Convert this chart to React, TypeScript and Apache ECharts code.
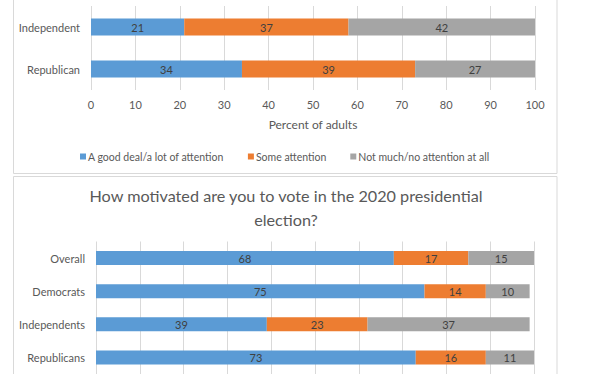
import React, { useEffect, useRef } from "react";
import * as echarts from "echarts";

// Top chart (attention)
const topCategories = ["Independent", "Republican"];
const topSeriesNames = [
  "A good deal/a lot of attention",
  "Some attention",
  "Not much/no attention at all",
];
const topGoodDeal = [21, 34];
const topSome = [37, 39];
const topNotMuch = [42, 27];

// Bottom chart (motivation)
const bottomTitle = "How motivated are you to vote in the 2020 presidential\nelection?";
const bottomCategories = ["Overall", "Democrats", "Independents", "Republicans"];
const bottomHigh = [68, 75, 39, 73];
const bottomMid = [17, 14, 23, 16];
const bottomLow = [15, 10, 37, 11];

const xTicks = [0, 10, 20, 30, 40, 50, 60, 70, 80, 90, 100];

const COLORS = ["#5B9BD5", "#ED7D31", "#A5A5A5"];
const FONT = "Lato";

export default function App() {
  const ref = useRef<HTMLDivElement>(null);
  useEffect(() => {
    if (!ref.current) return;
    const chart = echarts.init(ref.current, undefined, { renderer: "svg" });

    const mkSeries = (
      name: string,
      data: number[],
      color: string,
      gi: number,
      stack: string,
      barWidth: number
    ) => ({
      type: "bar",
      name,
      data,
      stack,
      xAxisIndex: gi,
      yAxisIndex: gi,
      barWidth,
      itemStyle: { color },
      label: {
        show: true,
        position: "inside",
        color: "#404040",
        fontFamily: FONT,
        fontSize: 11,
      },
    });

    const xAxisBase = (gi: number, showLabels: boolean) => ({
      type: "value",
      gridIndex: gi,
      min: xTicks[0],
      max: xTicks[xTicks.length - 1],
      interval: 10,
      axisLine: { show: false },
      axisTick: { show: false },
      splitLine: { show: true, lineStyle: { color: "#D9D9D9", width: 1 } },
      axisLabel: {
        show: showLabels,
        color: "#595959",
        fontFamily: FONT,
        fontSize: 11,
        margin: 9,
      },
    });

    const yAxisBase = (gi: number, data: string[]) => ({
      type: "category",
      gridIndex: gi,
      data,
      inverse: true,
      axisLine: { show: false },
      axisTick: { show: false },
      splitLine: { show: false },
      axisLabel: {
        color: "#595959",
        fontFamily: FONT,
        fontSize: 11,
        margin: 11,
      },
    });

    chart.setOption({
      animation: false,
      backgroundColor: "#FFFFFF",
      textStyle: { fontFamily: FONT },
      graphic: [
        {
          type: "rect",
          shape: { x: 13.5, y: -10, width: 543.5, height: 183.5 },
          style: { fill: "none", stroke: "#D9D9D9", lineWidth: 1 },
          z: -1,
        },
        {
          type: "rect",
          shape: { x: 13.5, y: 176.5, width: 543.5, height: 220 },
          style: { fill: "none", stroke: "#D9D9D9", lineWidth: 1 },
          z: -1,
        },
      ],
      title: {
        text: bottomTitle,
        left: 281,
        textAlign: "center",
        top: 178,
        textStyle: {
          color: "#595959",
          fontFamily: FONT,
          fontSize: 16.2,
          fontWeight: "normal",
          lineHeight: 24.5,
        },
      },
      legend: {
        data: topSeriesNames,
        top: 146,
        left: 75,
        itemWidth: 6,
        itemHeight: 6,
        itemGap: 24,
        icon: "rect",
        textStyle: {
          color: "#595959",
          fontFamily: FONT,
          fontSize: 10.5,
          padding: [0, 0, 0, -3],
        },
      },
      grid: [
        { left: 91, right: 612 - 535, top: 6, height: 84, containLabel: false },
        { left: 96, right: 612 - 534, top: 241.5, height: 148, containLabel: false },
      ],
      xAxis: [
        {
          ...xAxisBase(0, true),
          name: "Percent of adults",
          nameLocation: "middle",
          nameGap: 28,
          nameTextStyle: { color: "#595959", fontFamily: FONT, fontSize: 12 },
        },
        xAxisBase(1, false),
      ],
      yAxis: [yAxisBase(0, topCategories), yAxisBase(1, bottomCategories)],
      series: [
        mkSeries(topSeriesNames[0], topGoodDeal, COLORS[0], 0, "top", 17),
        mkSeries(topSeriesNames[1], topSome, COLORS[1], 0, "top", 17),
        mkSeries(topSeriesNames[2], topNotMuch, COLORS[2], 0, "top", 17),
        mkSeries("Very motivated", bottomHigh, COLORS[0], 1, "bottom", 14),
        mkSeries("Somewhat motivated", bottomMid, COLORS[1], 1, "bottom", 14),
        mkSeries("Not motivated", bottomLow, COLORS[2], 1, "bottom", 14),
      ],
    });
    return () => chart.dispose();
  }, []);
  return (
    <div
      ref={ref}
      style={{ position: "absolute", left: 0, top: 0, width: 612, height: 374 }}
    />
  );
}
